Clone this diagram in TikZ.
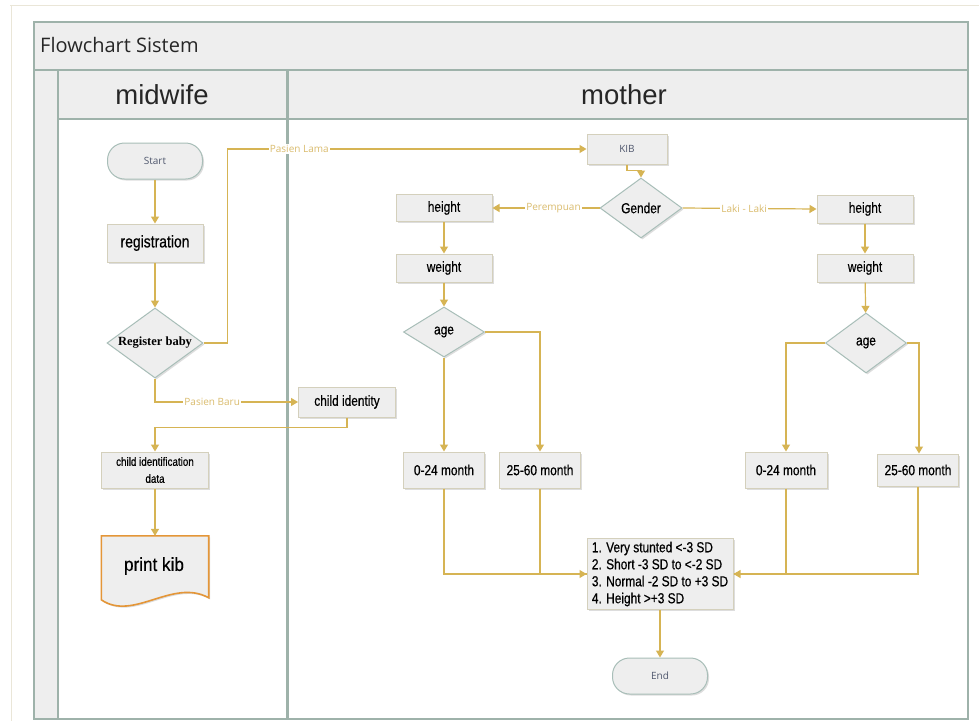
\documentclass[tikz,border=0pt]{standalone}
\usepackage{fontspec}
\setmainfont{Liberation Sans}
\newfontfamily\narrowf[FakeStretch=0.82,FakeBold=0.5]{Liberation Sans}
\newfontfamily\semif[FakeStretch=0.9,FakeBold=0.3]{Liberation Sans}
\newfontfamily\osans{Open Sans}
\newfontfamily\serifb{Liberation Serif}
\usetikzlibrary{arrows.meta,shapes.geometric,shadows}
\definecolor{frame}{RGB}{158,178,170}
\definecolor{panel}{RGB}{238,238,238}
\definecolor{boxline}{RGB}{212,208,188}
\definecolor{dialine}{RGB}{168,190,184}
\definecolor{conn}{RGB}{214,180,84}
\definecolor{lbl}{RGB}{218,188,110}
\definecolor{pilltext}{RGB}{80,88,110}
\definecolor{docline}{RGB}{228,150,56}
\definecolor{faint}{RGB}{234,230,216}
\tikzset{
  shd/.style={drop shadow={shadow xshift=1.5pt,shadow yshift=-1.5pt,opacity=0.22,fill=black!60}},
  procbox/.style={rectangle,draw=boxline,fill=panel,line width=1pt,inner sep=0pt,shd,
     font=\narrowf\fontsize{14.5}{17}\selectfont},
  decbox/.style={diamond,aspect=1.4,draw=dialine,fill=panel,line width=1pt,inner sep=0pt,shd,
     font=\narrowf\fontsize{14.5}{17}\selectfont},
  pill/.style={rectangle,rounded corners=17pt,draw=dialine,fill=panel,line width=1pt,inner sep=0pt,shd,
     minimum width=95pt,minimum height=36pt,text=pilltext,font=\osans\fontsize{10}{12}\selectfont},
  conline/.style={draw=conn,line width=1.2pt},
  arr/.style={conline,-{Triangle[width=8pt,length=7pt]}},
  flowlabel/.style={fill=white,inner sep=1pt,text=lbl,font=\osans\fontsize{10}{12}\selectfont},
  lane/.style={draw=frame,line width=2pt},
}
\begin{document}
\begin{tikzpicture}[x=1pt,y=-1pt]
\useasboundingbox (0,0) rectangle (979,721);
% faint page marks
\draw[faint,line width=1pt] (10,5) -- (979,5);
\draw[faint,line width=1pt] (11,5) -- (11,721);
% swimlane frame
\fill[panel] (34,22) rectangle (968,119);
\fill[panel] (34,70) rectangle (58,719);
\fill[white] (58,119) rectangle (968,719);
\draw[lane] (34,22) rectangle (968,719);
\draw[lane] (34,70) -- (968,70);
\draw[lane] (58,70) -- (58,719);
\draw[lane] (58,119) -- (968,119);
\draw[draw=frame,line width=3pt] (287,70) -- (287,719);
\node[anchor=west,inner sep=0pt,text=black!85,font=\osans\fontsize{20}{22}\selectfont] (title) at (40,45) {Flowchart Sistem};
\node[inner sep=0pt,text=black!85,font=\fontsize{27.5}{30}\selectfont] (lmid) at (162,95) {midwife};
\node[inner sep=0pt,text=black!85,font=\fontsize{27.5}{30}\selectfont] (lmot) at (624,95) {mother};
% midwife lane
\node[pill] (start) at (155,161) {Start};
\node[procbox,minimum width=96pt,minimum height=38pt,font=\narrowf\fontsize{17}{20}\selectfont] (reg) at (155,243) {registration};
\node[decbox,minimum width=96pt,minimum height=70pt,font=\serifb\bfseries\fontsize{12.5}{15}\selectfont] (rb) at (155,343) {Register baby};
\node[procbox,minimum width=107pt,minimum height=36pt,align=center,font=\narrowf\fontsize{12}{17}\selectfont] (cid) at (155,470) {child identification\\data};
\node[inner sep=0pt,minimum width=107pt,minimum height=64pt] (print) at (155,568) {};
\fill[black!60,opacity=0.22] ([shift={(1.5,1.5)}]print.north west) -- ([shift={(1.5,1.5)}]print.north east) -- ++(0,62) .. controls +(-36,-20) and +(32,22) .. ([shift={(1.5,65.5)}]print.north west) -- cycle;
\draw[draw=docline,fill=panel,line width=1.6pt] (print.north west) -- (print.north east) -- ++(0,62) .. controls +(-36,-20) and +(32,22) .. ([shift={(0,64)}]print.north west) -- cycle;
\node[inner sep=0pt,font=\semif\fontsize{19}{22}\selectfont] (printtext) at (154,566) {print kib};
% mother lane
\node[procbox,minimum width=80pt,minimum height=30pt,text=pilltext,font=\osans\fontsize{10}{12}\selectfont] (kib) at (627,149) {KIB};
\node[decbox,minimum width=82pt,minimum height=60pt] (gender) at (641,208) {Gender};
\node[procbox,minimum width=96pt,minimum height=27pt] (hl) at (444,208) {height};
\node[procbox,minimum width=96pt,minimum height=28pt] (wl) at (444,268) {weight};
\node[decbox,minimum width=81pt,minimum height=50pt] (al) at (444,332) {age};
\node[procbox,minimum width=81pt,minimum height=36pt] (m1) at (444,470) {0-24 month};
\node[procbox,minimum width=81pt,minimum height=36pt] (m2) at (540,470) {25-60 month};
\node[procbox,minimum width=96pt,minimum height=28pt] (hr) at (865,209) {height};
\node[procbox,minimum width=96pt,minimum height=28pt] (wr) at (865,268) {weight};
\node[decbox,minimum width=81pt,minimum height=60pt] (ar) at (866,343) {age};
\node[procbox,minimum width=82pt,minimum height=36pt] (m3) at (786,470) {0-24 month};
\node[procbox,minimum width=81pt,minimum height=32pt] (m4) at (918,470) {25-60 month};
\node[procbox,minimum width=97pt,minimum height=30pt] (ci) at (347,402) {child identity};
\node[procbox,minimum width=146pt,minimum height=71pt,align=left] (res) at (660,574) {1. Very stunted <-3 SD\\2. Short -3 SD to <-2 SD\\3. Normal -2 SD to +3 SD\\4. Height >+3 SD};
\node[pill] (endn) at (660,676) {End};
% connectors
\draw[arr] (start) -- (reg);
\draw[arr] (reg) -- (rb);
\draw[arr] (rb.east) -- ++(24,0) |- node[flowlabel,pos=0.6] (lpl) {Pasien Lama} (kib.west);
\draw[arr] (rb.south) |- node[flowlabel,pos=0.70] (lpb) {Pasien Baru} (ci.west);
\draw[arr] (ci.south) -- ++(0,10) -| (cid.north);
\draw[arr] (cid) -- (print.north);
\draw[arr] (kib.south) -- ++(0,6) -| (gender.north);
\draw[arr] (gender.west) -- node[flowlabel,pos=0.43] (lpr) {Perempuan} (hl.east);
\draw[arr] (gender.east) -- node[flowlabel,pos=0.46] (lll) {Laki - Laki} (hr.west);
\draw[arr] (hl) -- (wl);
\draw[arr] (wl) -- (al);
\draw[arr] (al.south) -- (m1.north);
\draw[arr] (al.east) -| (m2.north);
\draw[arr] (hr) -- (wr);
\draw[arr] (wr) -- (ar);
\draw[arr] (ar.west) -| (m3.north);
\draw[arr] (ar.east) -| ([xshift=1pt]m4.north);
\draw[arr] (m1.south) |- (res.west);
\draw[conline] (m2.south) |- (res.west);
\draw[arr] (m4.south) |- (res.east);
\draw[conline] (m3.south) |- (res.east);
\draw[arr] (res) -- (endn);
\end{tikzpicture}
\end{document}
